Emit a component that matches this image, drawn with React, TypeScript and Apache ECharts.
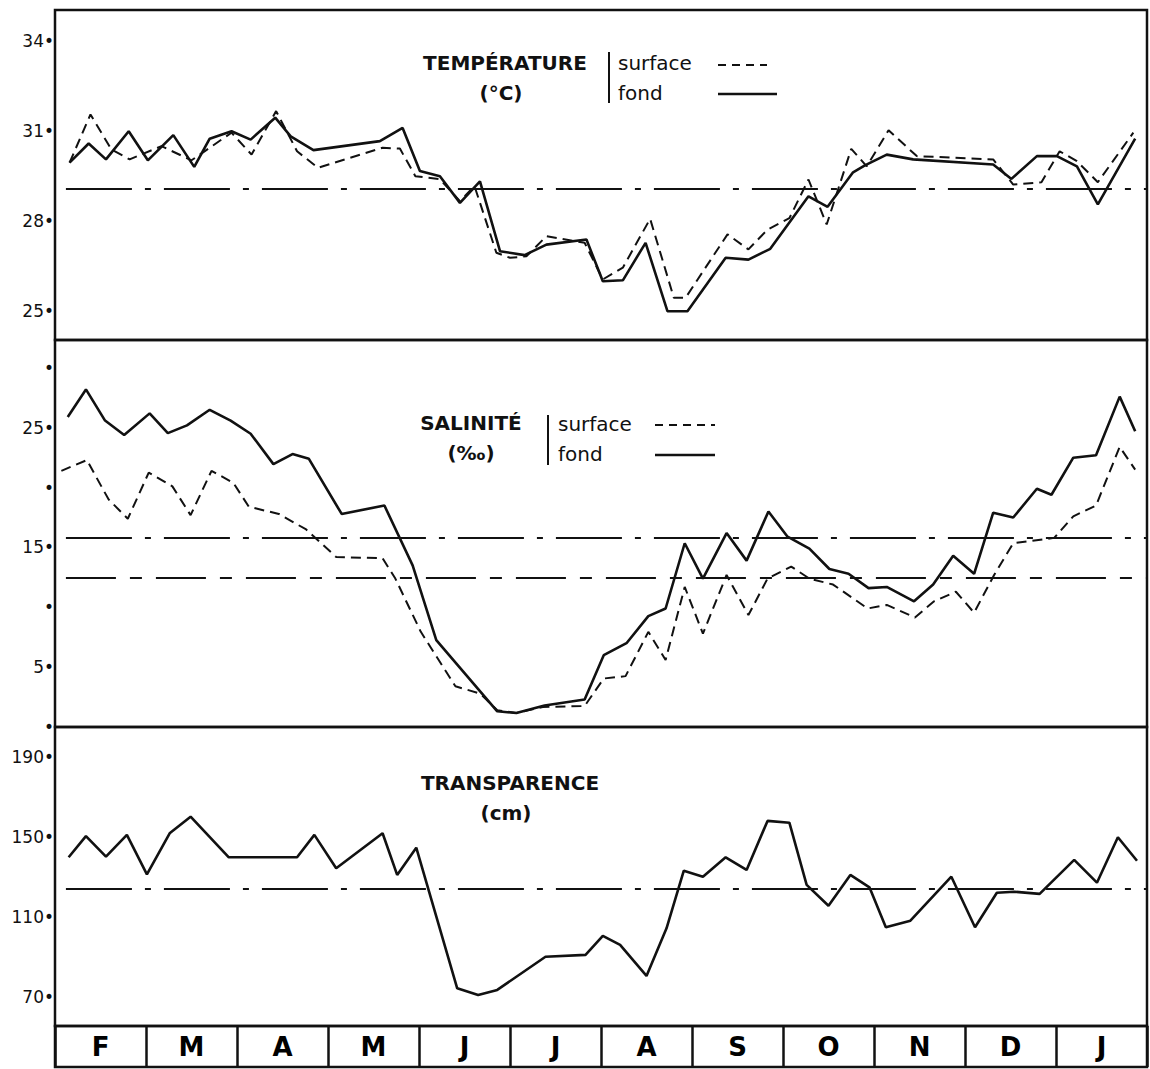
import React, { useEffect, useRef } from "react";
import * as echarts from "echarts";

// ---- Data (x = time in months from start of February, y = value) ----
const months = ["F", "M", "A", "M", "J", "J", "A", "S", "O", "N", "D", "J"];
const tempTicks = [25, 28, 31, 34];
const salTicks = [0, 5, 10, 15, 20, 25, 30];
const salLabeled = [5, 15, 25];
const transTicks = [70, 110, 150, 190];

const tempSurface = [
  [0.16, 29.95], [0.39, 31.56], [0.62, 30.39], [0.82, 30.06], [1.17, 30.5], [1.5, 30.03],
  [1.94, 30.95], [2.16, 30.22], [2.43, 31.67], [2.66, 30.33], [2.89, 29.78], [3.6, 30.45],
  [3.79, 30.42], [3.96, 29.5], [4.23, 29.4], [4.45, 28.67], [4.61, 29.17], [4.85, 26.95],
  [5.0, 26.78], [5.18, 26.83], [5.4, 27.5], [5.82, 27.28], [6.02, 26.06], [6.24, 26.45],
  [6.54, 28.08], [6.8, 25.45], [6.93, 25.45], [7.39, 27.56], [7.62, 27.06], [7.83, 27.72],
  [8.07, 28.1], [8.28, 29.39], [8.48, 27.89], [8.75, 30.41], [8.92, 29.83], [9.16, 31.03],
  [9.47, 30.17], [10.31, 30.06], [10.53, 29.22], [10.84, 29.3], [11.04, 30.33], [11.23, 30.0],
  [11.46, 29.3], [11.85, 30.95],
];

const tempFond = [
  [0.16, 29.95], [0.37, 30.59], [0.56, 30.06], [0.81, 31.0], [1.02, 30.03], [1.3, 30.87],
  [1.53, 29.81], [1.7, 30.75], [1.94, 31.0], [2.15, 30.72], [2.42, 31.45], [2.59, 30.83],
  [2.84, 30.37], [3.57, 30.67], [3.82, 31.11], [4.01, 29.67], [4.23, 29.5], [4.45, 28.61],
  [4.67, 29.33], [4.89, 27.0], [5.16, 26.87], [5.4, 27.22], [5.84, 27.39], [6.02, 26.0],
  [6.24, 26.03], [6.49, 27.28], [6.73, 25.0], [6.95, 25.0], [7.37, 26.78], [7.62, 26.72],
  [7.86, 27.08], [8.28, 28.83], [8.49, 28.48], [8.77, 29.63], [8.9, 29.86], [9.14, 30.22],
  [9.43, 30.06], [10.31, 29.89], [10.51, 29.41], [10.79, 30.17], [11.01, 30.17], [11.23, 29.83],
  [11.46, 28.56], [11.87, 30.75],
];

const salSurface = [
  [0.07, 21.4], [0.35, 22.3], [0.59, 19.0], [0.8, 17.4], [1.03, 21.25], [1.29, 20.1],
  [1.49, 17.7], [1.72, 21.4], [1.96, 20.4], [2.13, 18.4], [2.46, 17.8], [2.76, 16.5],
  [3.09, 14.2], [3.6, 14.1], [3.74, 12.4], [4.02, 7.95], [4.4, 3.4], [4.67, 2.8],
  [4.86, 1.4], [5.07, 1.17], [5.36, 1.67], [5.82, 1.75], [6.03, 4.05], [6.27, 4.25],
  [6.52, 7.95], [6.71, 5.6], [6.92, 11.7], [7.12, 7.8], [7.38, 12.7], [7.62, 9.35],
  [7.83, 12.4], [8.09, 13.4], [8.29, 12.4], [8.55, 11.9], [8.93, 9.9], [9.14, 10.2],
  [9.45, 9.15], [9.66, 10.5], [9.9, 11.3], [10.1, 9.55], [10.32, 12.7], [10.53, 15.35],
  [10.98, 15.8], [11.19, 17.6], [11.44, 18.5], [11.7, 23.4], [11.87, 21.5],
];

const salFond = [
  [0.14, 25.9], [0.34, 28.2], [0.55, 25.6], [0.76, 24.4], [1.04, 26.2], [1.24, 24.55],
  [1.45, 25.2], [1.7, 26.5], [1.93, 25.6], [2.15, 24.5], [2.4, 21.96], [2.61, 22.8],
  [2.79, 22.4], [3.15, 17.8], [3.62, 18.5], [3.93, 13.5], [4.19, 7.25], [4.86, 1.31],
  [5.07, 1.17], [5.38, 1.8], [5.82, 2.3], [6.03, 6.0], [6.28, 7.0], [6.52, 9.26],
  [6.71, 9.9], [6.92, 15.35], [7.12, 12.4], [7.38, 16.2], [7.6, 13.9], [7.84, 18.0],
  [8.05, 15.9], [8.29, 14.9], [8.51, 13.2], [8.72, 12.8], [8.94, 11.6], [9.14, 11.7],
  [9.44, 10.5], [9.65, 11.9], [9.87, 14.3], [10.1, 12.8], [10.31, 17.9], [10.53, 17.5],
  [10.79, 19.9], [10.95, 19.4], [11.19, 22.5], [11.44, 22.7], [11.7, 27.6], [11.87, 24.7],
];

const transparence = [
  [0.15, 139.7], [0.34, 150.3], [0.56, 140], [0.79, 150.9], [1.01, 131.2], [1.26, 151.7],
  [1.49, 160], [1.91, 139.7], [2.66, 139.7], [2.85, 150.9], [3.09, 134.2], [3.6, 151.7],
  [3.76, 130.9], [3.97, 144.5], [4.42, 74.2], [4.65, 70.9], [4.86, 73.4], [5.39, 90],
  [5.83, 90.9], [6.02, 100.4], [6.21, 95.9], [6.5, 80.4], [6.72, 104.2], [6.91, 133],
  [7.12, 130], [7.37, 139.7], [7.6, 133.4], [7.83, 157.9], [8.07, 157], [8.26, 125.9],
  [8.5, 115.5], [8.74, 130.9], [8.95, 124.7], [9.13, 104.7], [9.4, 108], [9.85, 130],
  [10.11, 104.7], [10.35, 122], [10.54, 122.5], [10.82, 121.4], [11.2, 138.4], [11.45, 127],
  [11.68, 149.7], [11.89, 138],
];

const tempMean = 29.07;
const salFondMean = 15.85;
const salSurfaceMean = 12.45;
const transMean = 124;

// ---- Styles ----
const INK = "#111111";
const FONT = "'DejaVu Sans', 'Liberation Sans', sans-serif";
const DASH = [10, 6];
const DASHDOT = [66, 13, 6, 13];
const DASHDOT2 = [50, 14, 12, 14];

function meanLine(v: number, dash: number[]) {
  return {
    silent: true,
    symbol: "none",
    label: { show: false },
    lineStyle: { color: INK, width: 1.8, type: dash },
    data: [[{ coord: [0.12, v] }, { coord: [12, v] }]],
  };
}

function yAxisBase(grid: number, min: number, max: number, ticks: number[], fmt: (v: number) => string) {
  return {
    type: "value",
    gridIndex: grid,
    min,
    max,
    axisLine: { show: false },
    axisTick: { show: false },
    splitLine: { show: false },
    axisLabel: {
      customValues: ticks,
      formatter: fmt,
      margin: 1,
      fontSize: 17,
      color: INK,
      fontFamily: FONT,
    },
  };
}

function txt(text: string, x: number, y: number, size: number, bold: boolean, align = "center") {
  return {
    type: "text",
    silent: true,
    style: {
      text,
      x,
      y,
      font: `${bold ? "bold " : ""}${size}px ${FONT}`,
      fill: INK,
      textAlign: align,
      textVerticalAlign: "middle",
    },
  };
}

function seg(x1: number, y1: number, x2: number, y2: number, w: number, dash?: number[]) {
  return {
    type: "line",
    silent: true,
    shape: { x1, y1, x2, y2 },
    style: { stroke: INK, lineWidth: w, lineDash: dash || null },
  };
}

export default function App() {
  const ref = useRef<HTMLDivElement>(null);

  useEffect(() => {
    if (!ref.current) return;
    const chart = echarts.init(ref.current, undefined, { renderer: "svg" });

    const gridDefs = [
      { top: 10, height: 330 },
      { top: 340, height: 387 },
      { top: 727, height: 299 },
      { top: 1026, height: 41 },
    ];

    const option: any = {
      animation: false,
      backgroundColor: "#ffffff",
      grid: gridDefs.map((g) => ({
        left: 55,
        right: 3,
        top: g.top,
        height: g.height,
        show: true,
        borderColor: INK,
        borderWidth: 2.5,
        backgroundColor: "transparent",
      })),
      xAxis: [0, 1, 2, 3].map((i) => ({
        type: "value",
        gridIndex: i,
        min: 0,
        max: 12,
        interval: 1,
        axisLine: { show: false },
        axisTick: { show: false },
        axisLabel: { show: false },
        splitLine: { show: i === 3, lineStyle: { color: INK, width: 2.5 } },
      })),
      yAxis: [
        yAxisBase(0, 24.04, 35.04, tempTicks, (v: number) => `${v}•`),
        yAxisBase(1, 0, 32.33, salTicks, (v: number) => (salLabeled.includes(v) ? `${v}•` : "•")),
        yAxisBase(2, 55.35, 204.85, transTicks, (v: number) => `${v}•`),
        {
          type: "value",
          gridIndex: 3,
          min: 0,
          max: 1,
          show: false,
        },
      ],
      series: [
        {
          name: "Température surface",
          type: "line",
          xAxisIndex: 0,
          yAxisIndex: 0,
          data: tempSurface,
          symbol: "none",
          lineStyle: { color: INK, width: 2, type: DASH },
        },
        {
          name: "Température fond",
          type: "line",
          xAxisIndex: 0,
          yAxisIndex: 0,
          data: tempFond,
          symbol: "none",
          lineStyle: { color: INK, width: 2.6 },
          markLine: meanLine(tempMean, DASHDOT),
        },
        {
          name: "Salinité surface",
          type: "line",
          xAxisIndex: 1,
          yAxisIndex: 1,
          data: salSurface,
          symbol: "none",
          lineStyle: { color: INK, width: 2, type: DASH },
          markLine: meanLine(salSurfaceMean, DASHDOT2),
        },
        {
          name: "Salinité fond",
          type: "line",
          xAxisIndex: 1,
          yAxisIndex: 1,
          data: salFond,
          symbol: "none",
          lineStyle: { color: INK, width: 2.6 },
          markLine: meanLine(salFondMean, DASHDOT),
        },
        {
          name: "Transparence",
          type: "line",
          xAxisIndex: 2,
          yAxisIndex: 2,
          data: transparence,
          symbol: "none",
          lineStyle: { color: INK, width: 2.6 },
          markLine: meanLine(transMean, DASHDOT),
        },
        {
          name: "Mois",
          type: "scatter",
          xAxisIndex: 3,
          yAxisIndex: 3,
          data: months.map((m, i) => ({ name: m, value: [i + 0.5, 0.5] })),
          symbolSize: 1,
          itemStyle: { color: "rgba(0,0,0,0)" },
          silent: true,
          label: {
            show: true,
            position: "inside",
            formatter: "{b}",
            fontSize: 26,
            fontWeight: "bold",
            color: "#000000",
            opacity: 1,
            textBorderWidth: 0,
            fontFamily: FONT,
          },
        },
      ],
      graphic: [
        // Température
        txt("TEMPÉRATURE", 505, 63, 20, true),
        txt("(°C)", 501, 93, 20, true),
        seg(609, 52, 609, 103, 2),
        txt("surface", 618, 63, 20, false, "left"),
        txt("fond", 618, 93, 20, false, "left"),
        seg(718, 65, 767, 65, 2, [8, 6]),
        seg(718, 94, 777, 94, 2.5),
        // Salinité
        txt("SALINITÉ", 471, 423, 20, true),
        txt("(‰)", 471, 453, 20, true),
        seg(548, 415, 548, 465, 2),
        txt("surface", 558, 424, 20, false, "left"),
        txt("fond", 558, 454, 20, false, "left"),
        seg(655, 425, 715, 425, 2, [8, 6]),
        seg(655, 455, 715, 455, 2.5),
        // Transparence
        txt("TRANSPARENCE", 510, 783, 20, true),
        txt("(cm)", 506, 813, 20, true),
      ],
    };

    chart.setOption(option);
    return () => chart.dispose();
  }, []);

  return (
    <div
      ref={ref}
      style={{ position: "fixed", left: 0, top: 0, width: 1150, height: 1069, background: "#fff" }}
    />
  );
}
